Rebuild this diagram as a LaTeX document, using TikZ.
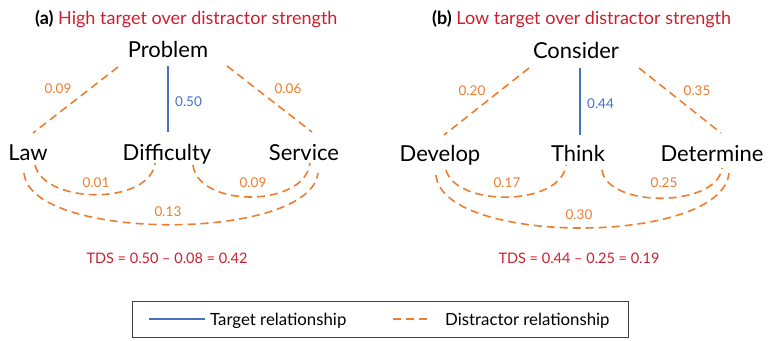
\documentclass[tikz,border=0pt]{standalone}
\usepackage{fontspec}
\setmainfont{Lato}
\usetikzlibrary{calc}
\definecolor{dorange}{HTML}{ED7D31}
\definecolor{tblue}{HTML}{4472C4}
\definecolor{tred}{HTML}{CC1F2E}
\tikzset{
  word/.style={anchor=base, inner sep=0pt, font=\fontsize{22}{26}\selectfont},
  num/.style={inner sep=0pt, text=dorange, font=\fontsize{13.5}{16}\selectfont},
  tnum/.style={inner sep=0pt, anchor=west, text=tblue, font=\fontsize{13.5}{16}\selectfont},
  ttl/.style={anchor=base west, inner sep=0pt, font=\fontsize{18}{21}\selectfont},
  tds/.style={inner sep=0pt, text=tred, font=\fontsize{14.5}{17}\selectfont},
  leg/.style={anchor=base west, inner sep=0pt, font=\fontsize{16.8}{20}\selectfont},
  dist/.style={draw=dorange, line width=1.6pt, dash pattern=on 8pt off 5pt},
  targ/.style={draw=tblue, line width=1.6pt},
}
\begin{document}
\begin{tikzpicture}[x=1pt, y=-1pt]
\useasboundingbox (0,0) rectangle (768,340);
% ---------- titles ----------
\node[ttl] (ta) at (35,24) {\textbf{(a)} \textcolor{tred}{High target over distractor strength}};
\node[ttl] (tb) at (432,24) {\textbf{(b)} \textcolor{tred}{Low target over distractor strength}};
% ---------- panel (a) ----------
\node[word] (problem) at (168,57) {Problem};
\node[word] (law) at (28,160) {Law};
\node[word] (difficulty) at (167,160) {Difficulty};
\node[word] (service) at (304,160) {Service};
\draw[dist] ([shift={(-50,10)}]problem.base) -- ([shift={(5,-27)}]law.base);
\draw[dist] ([shift={(59,9)}]problem.base) -- ([shift={(8,-28)}]service.base);
\draw[targ] ([shift={(0,9)}]problem.base) -- ([shift={(1,-28)}]difficulty.base);
\draw[dist] ([shift={(7,5)}]law.base) .. controls +(10,40) and +(-5,42) .. ([shift={(-12,3)}]difficulty.base);
\draw[dist] ([shift={(26,5)}]difficulty.base) .. controls +(5,43) and +(-5,45) .. ([shift={(6,3)}]service.base);
\draw[dist] ([shift={(-4,13)}]law.base) .. controls +(6,69) and +(-8,69) .. ([shift={(14,13)}]service.base);
\node[num] (la1) at (58,89) {0.09};
\node[num] (la2) at (288,89) {0.06};
\node[tnum] (la3) at (175,102) {0.50};
\node[num] (la4) at (96,183) {0.01};
\node[num] (la5) at (253,183) {0.09};
\node[num] (la6) at (168,212) {0.13};
\node[tds] (tdsa) at (167,258) {TDS = 0.50 – 0.08 = 0.42};
% ---------- panel (b) ----------
\node[word] (consider) at (576,58) {Consider};
\node[word] (develop) at (440,161) {Develop};
\node[word] (think) at (578,161) {Think};
\node[word] (determine) at (712,161) {Determine};
\draw[dist] ([shift={(-47,10)}]consider.base) -- ([shift={(4,-26)}]develop.base);
\draw[dist] ([shift={(63,10)}]consider.base) -- ([shift={(9,-28)}]determine.base);
\draw[targ] ([shift={(4,10)}]consider.base) -- ([shift={(2,-26)}]think.base);
\draw[dist] ([shift={(6,9)}]develop.base) .. controls +(10,37) and +(-5,42) .. ([shift={(-12,4)}]think.base);
\draw[dist] ([shift={(24,9)}]think.base) .. controls +(5,38) and +(-5,40) .. ([shift={(10,7)}]determine.base);
\draw[dist] ([shift={(-4,14)}]develop.base) .. controls +(6,71) and +(-7,73) .. ([shift={(17,12)}]determine.base);
\node[num] (lb1) at (472,91) {0.20};
\node[num] (lb2) at (697,91) {0.35};
\node[tnum] (lb3) at (587,104) {0.44};
\node[num] (lb4) at (507,183) {0.17};
\node[num] (lb5) at (664,183) {0.25};
\node[num] (lb6) at (579,215) {0.30};
\node[tds] (tdsb) at (579,258) {TDS = 0.44 – 0.25 = 0.19};
% ---------- legend ----------
\node[draw=black!75, line width=0.9pt, minimum width=496pt, minimum height=36pt, inner sep=0pt] (legend) at (380,319) {};
\coordinate (lt1) at (149,319);
\coordinate (lt2) at (205,319);
\draw[targ] (lt1) -- (lt2);
\node[leg] (ltt) at (210,325) {Target relationship};
\coordinate (ld1) at (393,319);
\coordinate (ld2) at (432,319);
\draw[dist] (ld1) -- (ld2);
\node[leg] (ldt) at (445,325) {Distractor relationship};
\end{tikzpicture}
\end{document}
